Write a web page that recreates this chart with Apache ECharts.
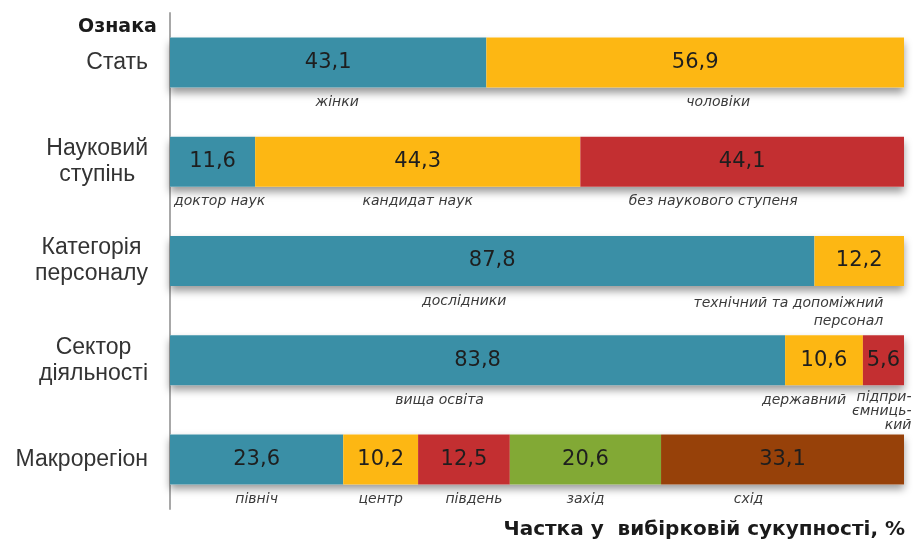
<!DOCTYPE html>
<html>
<head>
<meta charset="utf-8">
<script src="https://cdn.jsdelivr.net/npm/echarts@6/dist/echarts.min.js"></script>
<style>
  html, body { margin: 0; padding: 0; background: #fff; }
  #chart { width: 913px; height: 545px; }
</style>
</head>
<body>
<div id="chart"></div>
<script>
// категорії (ознаки)
const categories = ['Стать', 'Науковий\nступінь', 'Категорія\nперсоналу', 'Сектор\nдіяльності', 'Макрорегіон']

// частки, %
const sexShares = [43.1, 56.9]
const degreeShares = [11.6, 44.3, 44.1]
const staffShares = [87.8, 12.2]
const sectorShares = [83.8, 10.6, 5.6]
const regionShares = [23.6, 10.2, 12.5, 20.6, 33.1]

// підписи під сегментами
const sexNames = ['жінки', 'чоловіки']
const degreeNames = ['доктор наук', 'кандидат наук', 'без наукового ступеня']
const staffNames = ['дослідники', 'технічний та допоміжний\nперсонал']
const sectorNames = ['вища освіта', 'державний', 'підпри-\nємниць-\nкий']
const regionNames = ['північ', 'центр', 'південь', 'захід', 'схід']

const rows = [sexShares, degreeShares, staffShares, sectorShares, regionShares]
const rowNames = [sexNames, degreeNames, staffNames, sectorNames, regionNames]

const colors = ['#3a8fa6', '#fdb713', '#c32f31', '#82a935', '#974109']

// зсуви підписів (стиль, не дані)
const captionStyle = {
  'жінки': { offset: [9, 0] },
  'чоловіки': { offset: [23, 0] },
  'доктор наук': { offset: [7, 0] },
  'без наукового ступеня': { offset: [-29, 0] },
  'дослідники': { offset: [-28, 0] },
  'технічний та допоміжний\nперсонал': { align: 'right', offset: [24, 0], lineHeight: 18 },
  'вища освіта': { offset: [-38, 0] },
  'державний': { offset: [-20, 0] },
  'підпри-\nємниць-\nкий': { align: 'right', offset: [28, -3], lineHeight: 14 },
  'південь': { offset: [10, 0] },
  'схід': { offset: [-34, 0] }
}

const chart = echarts.init(document.getElementById('chart'))

const segCount = Math.max(...rows.map(r => r.length))
const totals = rows.map(r => r.reduce((a, b) => a + b, 0))

const series = []

// біла підкладка з тінню
series.push({
  type: 'bar',
  stack: 'bg',
  barWidth: 50,
  barGap: '-100%',
  silent: true,
  data: totals,
  itemStyle: {
    color: '#fff',
    shadowColor: 'rgba(0,0,0,0.4)',
    shadowBlur: 8,
    shadowOffsetY: 5
  },
  z: 1
})

for (let j = 0; j < segCount; j++) {
  series.push({
    type: 'bar',
    stack: 'v',
    barWidth: 50,
    barGap: '-100%',
    data: rows.map(r => (r[j] === undefined ? '-' : r[j])),
    itemStyle: { color: colors[j] },
    label: {
      show: true,
      position: 'inside',
      fontFamily: 'DejaVu Sans',
      fontSize: 21,
      color: '#1e1e1e',
      formatter: p => String(p.value).replace('.', ',')
    },
    z: 2
  })
}

for (let j = 0; j < segCount; j++) {
  series.push({
    type: 'bar',
    stack: 'c',
    barWidth: 50,
    barGap: '-100%',
    silent: true,
    data: rows.map((r, i) => {
      if (r[j] === undefined) return '-'
      const name = rowNames[i][j]
      const st = captionStyle[name] || {}
      return { value: r[j], name: name, label: Object.assign({}, st) }
    }),
    itemStyle: { color: 'rgba(0,0,0,0)' },
    label: {
      show: true,
      position: 'bottom',
      distance: 8,
      fontFamily: 'DejaVu Sans',
      fontStyle: 'italic',
      fontSize: 14,
      color: '#3a3a3a',
      formatter: p => rowNames[p.dataIndex][j]
    },
    z: 3
  })
}

const option = {
  animation: false,
  title: [
    {
      text: 'Ознака',
      left: 78,
      top: 18,
      padding: 0,
      textStyle: { fontFamily: 'DejaVu Sans', fontSize: 19, fontWeight: 'bold', color: '#1a1a1a' }
    },
    {
      text: 'Частка у  вибірковій сукупності, %',
      right: 8,
      top: 520,
      padding: 0,
      textStyle: { fontFamily: 'DejaVu Sans', fontSize: 20, fontWeight: 'bold', color: '#1a1a1a' }
    }
  ],
  grid: { left: 170, right: 9, top: 13, bottom: 36 },
  xAxis: {
    type: 'value',
    min: 0,
    max: 100,
    show: false
  },
  yAxis: {
    type: 'category',
    inverse: true,
    data: categories,
    axisLine: { show: true, lineStyle: { color: '#a8a8a8', width: 2 } },
    axisTick: { show: false },
    axisLabel: {
      margin: 22,
      fontFamily: 'Liberation Sans',
      fontSize: 23,
      color: '#333',
      lineHeight: 26,
      formatter: v => v.split('\n').map(l => '{c|' + l + '}').join('\n'),
      rich: {
        c: { align: 'center', fontFamily: 'Liberation Sans', fontSize: 23, color: '#333', lineHeight: 26 }
      }
    }
  },
  series: series
}

chart.setOption(option)
</script>
</body>
</html>
